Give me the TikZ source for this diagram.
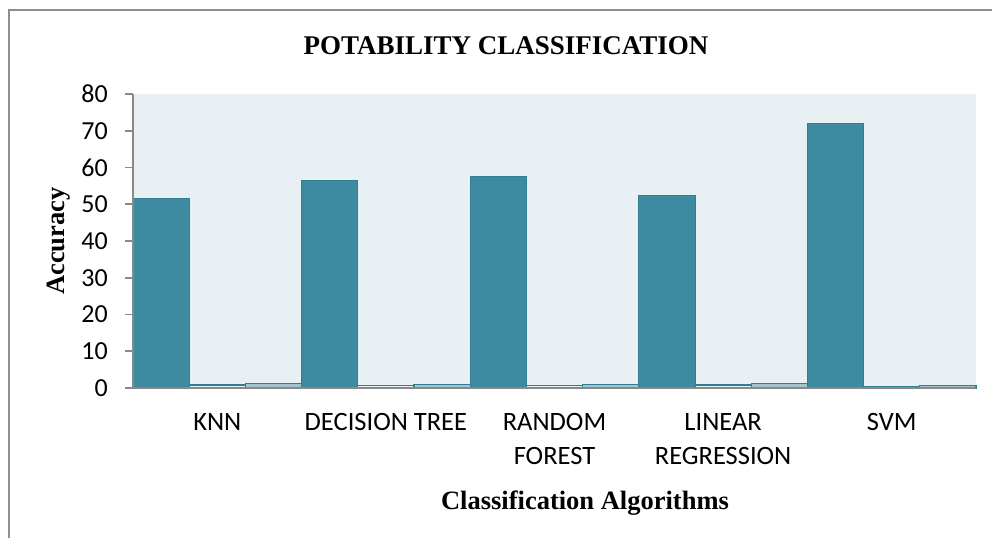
\documentclass[tikz,border=0pt]{standalone}
\usepackage{fontspec}
\setmainfont{Liberation Serif}
\newfontfamily\calib{Carlito}
\definecolor{barfill}{HTML}{3D8BA1}
\definecolor{barline}{HTML}{327D92}
\definecolor{plotbg}{HTML}{E8F0F4}
\definecolor{barthree}{HTML}{A3C3CD}
\definecolor{axisgray}{HTML}{898989}
\definecolor{framegray}{HTML}{8E8E8E}
\tikzset{
  barone/.style={fill=barfill, draw=barline, line width=1pt},
  bartwo/.style={draw=barline, line width=1.2pt},
  barthr/.style={fill=barthree, draw=barline, line width=1.2pt},
  axisline/.style={draw=axisgray, line width=1.6pt},
  frameline/.style={draw=framegray, line width=1.5pt},
  ticklab/.style={font=\calib\fontsize{26}{30}\selectfont, anchor=east, inner sep=0pt},
  catlab/.style={font=\calib\fontsize{26.5}{30}\selectfont, anchor=base, inner sep=0pt},
  boldlab/.style={font=\fontsize{26.5}{30}\selectfont\bfseries, inner sep=0pt}
}
\begin{document}
\begin{tikzpicture}[x=1pt,y=-1pt]
\useasboundingbox (0,0) rectangle (992,538);
% outer frame (left and top only visible)
\draw[frameline] (9,538) -- (9,10) -- (992,10);
% plot area
\fill[plotbg] (133,94) rectangle (976,388);
% bars
\foreach \i/\a/\b/\c in {0/51.5/0.8/1.2, 1/56.5/0.6/0.9, 2/57.5/0.7/1.0, 3/52.5/0.8/1.2, 4/72/0.5/0.7} {
  \pgfmathsetmacro\xl{133+168.6*\i}
  \pgfmathsetmacro\xm{\xl+56.2}
  \pgfmathsetmacro\xr{\xl+112.4}
  \pgfmathsetmacro\xe{\xl+168.6}
  \draw[barthr] (\xr,388) rectangle (\xe,{388-\c*3.675});
  \draw[bartwo] (\xm,388) rectangle (\xr,{388-\b*3.675});
  \draw[barone] (\xl,388) rectangle (\xm,{388-\a*3.675});
}
% axes
\draw[axisline] (133,94) -- (133,388);
\draw[axisline] (125,388) -- (976,388);
\foreach \v in {0,1,...,8} {
  \draw[axisline] (125,{388-\v*36.75}) -- (133,{388-\v*36.75});
  \node[ticklab] (tick\v) at (108,{388-\v*36.75}) {\number\numexpr\v*10\relax};
}
% category labels
\node[catlab] (knn) at (217.3,430) {KNN};
\node[catlab] (dt) at (385.9,430) {DECISION TREE};
\node[catlab] (rfa) at (554.5,430) {RANDOM};
\node[catlab] (rfb) at (554.5,464) {FOREST};
\node[catlab] (lra) at (723.1,430) {LINEAR};
\node[catlab] (lrb) at (723.1,464) {REGRESSION};
\node[catlab] (svm) at (891.7,430) {SVM};
% titles
\node[boldlab, font=\fontsize{27}{30}\selectfont\bfseries, anchor=base] (title) at (506,54) {POTABILITY CLASSIFICATION};
\node[boldlab, anchor=base] (xtitle) at (585,509) {Classification Algorithms};
\node[boldlab, rotate=90] (ytitle) at (59,241) {Accuracy};
\end{tikzpicture}
\end{document}
